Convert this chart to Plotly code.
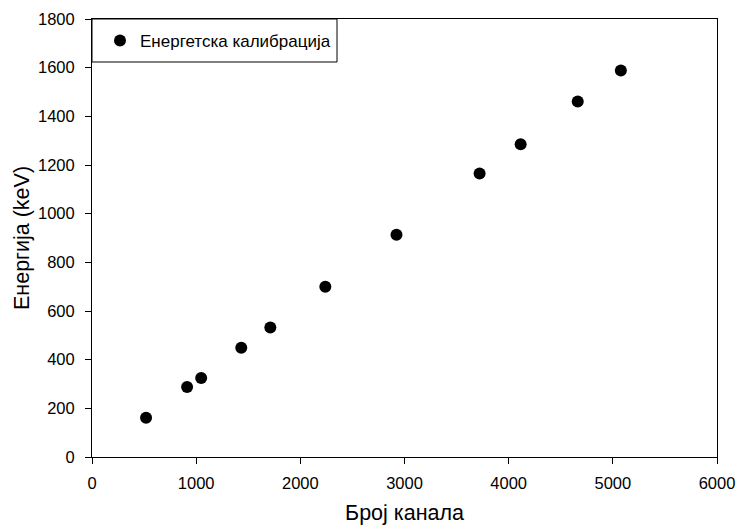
import plotly.graph_objects as go

channels = [519, 913, 1048, 1433, 1712, 2240, 2923, 3721, 4115, 4663, 5077]
energies = [161, 288, 325, 449, 532, 700, 913, 1165, 1285, 1461, 1588]
series_name = "Енергетска калибрација"
x_title = "Број канала"
y_title = "Енергија (keV)"

fig = go.Figure()
fig.add_trace(go.Scatter(
    x=channels, y=energies, mode="markers", name=series_name,
    marker=dict(color="black", size=12, symbol="circle"),
    showlegend=True,
))

FONT = "Liberation Sans, Arial, sans-serif"
PW = 739 - 92 - 22
PH = 529 - 19 - 72
fig.update_layout(
    width=739, height=529,
    margin=dict(l=92, r=22, t=19, b=72, autoexpand=False),
    paper_bgcolor="white", plot_bgcolor="white",
    font=dict(family=FONT, color="black", size=16.5),
    showlegend=True,
    legend=dict(x=8 / PW, y=1 - 4 / PH, xanchor="left", yanchor="top",
                bgcolor="rgba(0,0,0,0)", borderwidth=0,
                font=dict(size=17, family=FONT), itemsizing="constant",
                tracegroupgap=0),
    xaxis=dict(range=[0, 6000], dtick=1000, tick0=0, automargin=False,
               showgrid=False, zeroline=False,
               showline=True, linecolor="black", linewidth=1, mirror=True,
               ticks="outside", ticklen=6, tickcolor="black",
               tickfont=dict(size=16.5), ticklabelstandoff=5,
               title=dict(text=x_title, font=dict(size=21.5), standoff=14)),
    yaxis=dict(range=[0, 1800], dtick=200, tick0=0, automargin=False,
               showgrid=False, zeroline=False,
               showline=True, linecolor="black", linewidth=1, mirror=True,
               ticks="outside", ticklen=6, tickcolor="black",
               tickfont=dict(size=16.5), ticklabelstandoff=7,
               title=dict(text=y_title, font=dict(size=21.5), standoff=2)),
    shapes=[dict(type="rect", xref="paper", yref="paper",
                 x0=0, x1=245 / PW, y0=1 - 43 / PH, y1=1,
                 line=dict(color="black", width=1), fillcolor="rgba(0,0,0,0)")],
)

fig.write_html("out.html")
